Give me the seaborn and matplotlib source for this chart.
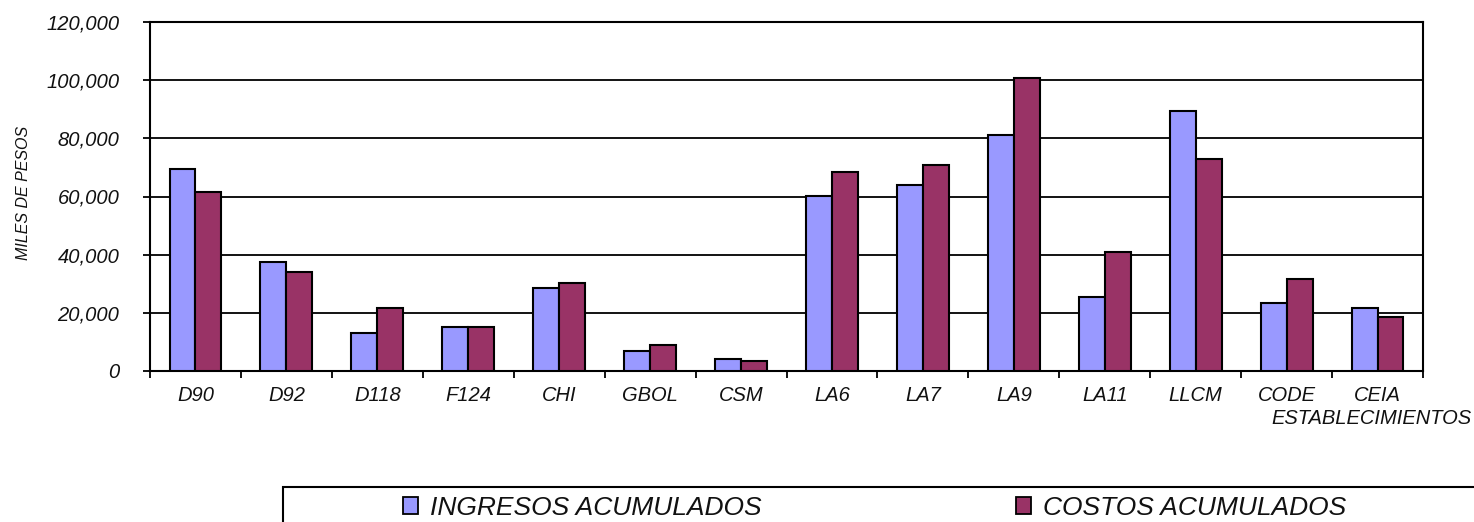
import pandas as pd
import numpy as np
import matplotlib.pyplot as plt
import seaborn as sns
from matplotlib.patches import Patch, Rectangle
from matplotlib.ticker import FuncFormatter, MultipleLocator, FixedLocator


establecimientos = ["D90", "D92", "D118", "F124", "CHI", "GBOL", "CSM",
                    "LA6", "LA7", "LA9", "LA11", "LLCM", "CODE", "CEIA"]
etiquetas = ["D90", "D92", "D118", "F124", "CHI", "GBOL", "CSM",
             "LA6", "LA7", "LA9", "LA11", "LLCM", "CODE", "CEIA"]
ingresos = [69300, 37500, 13200, 15300, 28500, 6900, 4100,
            60100, 63800, 81000, 25600, 89400, 23400, 21600]
costos = [61700, 34000, 21500, 15300, 30400, 9100, 3300,
          68500, 70700, 100900, 40900, 72800, 31800, 18700]
series = ["INGRESOS ACUMULADOS", "COSTOS ACUMULADOS"]
colores = ["#9999FF", "#993366"]

df = pd.DataFrame({
    "Establecimiento": establecimientos * 2,
    "Valor": ingresos + costos,
    "Serie": [series[0]] * len(ingresos) + [series[1]] * len(costos),
})

sns.set_theme(style="white")
plt.rcParams["font.family"] = ["Liberation Sans", "DejaVu Sans"]
plt.rcParams["font.style"] = "italic"

W, H = 1474, 522
fig = plt.figure(figsize=(W / 100, H / 100), dpi=100)
ax = fig.add_axes([150 / W, 1 - 371 / H, (1423 - 150) / W, (371 - 22) / H])

sns.barplot(data=df, x="Establecimiento", y="Valor", hue="Serie",
            palette=colores, saturation=1, width=0.57, gap=0,
            edgecolor="black", linewidth=1.5, ax=ax, legend=False, zorder=3)

ax.set_xlim(-0.5, len(establecimientos) - 0.5)
ax.set_ylim(0, 120000)
ax.yaxis.set_major_locator(MultipleLocator(20000))
ax.yaxis.set_major_formatter(FuncFormatter(lambda v, p: f"{int(v):,}"))
ax.grid(axis="y", color="black", linewidth=1.3, zorder=0)
ax.set_axisbelow(True)
for s in ax.spines.values():
    s.set_color("black")
    s.set_linewidth(1.5)

ax.set_xticks(range(len(establecimientos)))
ax.set_xticklabels(etiquetas)
ax.xaxis.set_minor_locator(FixedLocator(np.arange(-0.5, len(establecimientos), 1)))
ax.tick_params(axis="x", which="major", length=0, pad=11, labelsize=14.5, labelcolor="#111111")
ax.tick_params(axis="x", which="minor", bottom=True, length=5, width=1.3, color="black", direction="out")
ax.tick_params(axis="y", left=True, length=5, width=1.3, color="black", direction="out",
               pad=17, labelsize=14.5, labelcolor="#111111")
for t in ax.get_xticklabels() + ax.get_yticklabels():
    t.set_fontstyle("italic")
ax.set_xlabel("")
ax.set_ylabel("")

fig.text(24 / W, 1 - 193 / H, "MILES DE PESOS", rotation=90, ha="center", va="center",
         fontsize=11.5, style="italic", color="#111111")
fig.text(1471 / W, 1 - 418 / H, "ESTABLECIMIENTOS", ha="right", va="center",
         fontsize=14.5, style="italic", color="#111111")

# legend frame (runs off the right and bottom edges like the original)
fig.patches.append(Rectangle((283 / W, -0.2), 1.0, 0.2 + (522 - 487) / H, fill=False,
                             edgecolor="black", linewidth=1.5, transform=fig.transFigure))

for i, x0 in enumerate([403, 1016]):
    h = Patch(facecolor=colores[i], edgecolor="black", linewidth=1.3)
    leg = fig.legend([h], [series[i]], loc="upper left", bbox_to_anchor=(x0 / W, 1 - 496 / H),
                     frameon=False, borderaxespad=0, borderpad=0, handlelength=0.58,
                     handleheight=0.58, handletextpad=0.45,
                     prop={"style": "italic", "size": 19})
    for t in leg.get_texts():
        t.set_color("#111111")

fig.savefig("out.png", dpi=100)
